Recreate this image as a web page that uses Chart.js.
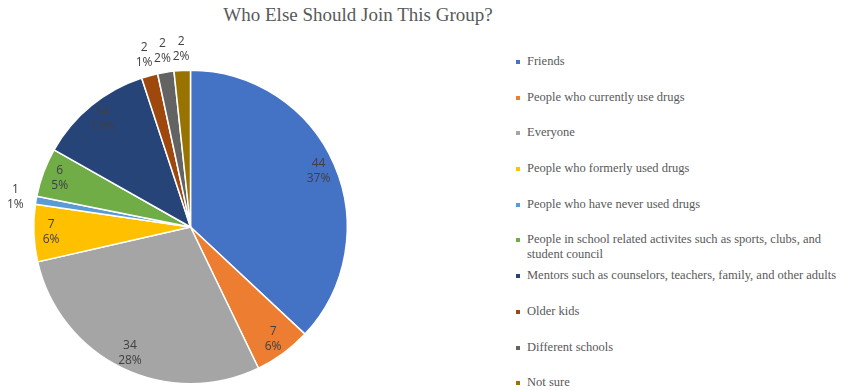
<!DOCTYPE html>
<html>
<head>
<meta charset="utf-8">
<title>Who Else Should Join This Group?</title>
<script src="https://cdn.jsdelivr.net/npm/chart.js@4/dist/chart.umd.min.js"></script>
<style>
    html, body { margin: 0; padding: 0; background: #fff; }
    #wrap { position: relative; width: 844px; height: 390px; overflow: hidden; }
    #title {
        position: absolute; left: 158px; top: 4px; width: 400px;
        text-align: center; font-family: "Liberation Serif", "Times New Roman", serif;
        font-size: 19px; color: #595959;
    }
    #pieCanvas { position: absolute; left: 0; top: 0; }
    #legend {
        position: absolute; left: 514px; top: 54px; margin: 0; padding: 0; list-style: none;
        font-family: "Liberation Serif", "Times New Roman", serif; font-size: 12.5px; color: #595959;
    }
    #legend li { position: relative; height: 35.7px; line-height: 15px; padding-left: 13px; width: 318px; }
    #legend li span.box { position: absolute; left: 2px; top: 6px; width: 4px; height: 4px; }
</style>
</head>
<body>
<div id="wrap">
    <div id="title">Who Else Should Join This Group?</div>
    <canvas id="pieCanvas" width="500" height="390"></canvas>
    <ul id="legend"></ul>
</div>
<script>
// Kategoriler ve değerler
const categories = [
    'Friends',
    'People who currently use drugs',
    'Everyone',
    'People who formerly used drugs',
    'People who have never used drugs',
    'People in school related activites such as sports, clubs, and student council',
    'Mentors such as counselors, teachers, family, and other adults',
    'Older kids',
    'Different schools',
    'Not sure'
];
const counts = [44, 7, 34, 7, 1, 6, 14, 2, 2, 2];
const percentLabels = ['37%', '6%', '28%', '6%', '1%', '5%', '12%', '1%', '2%', '2%'];
const sliceColors = ['#4472C4', '#ED7D31', '#A5A5A5', '#FFC000', '#5B9BD5',
                     '#70AD47', '#264478', '#9E480E', '#636363', '#997300'];

/**
 * Dilim etiketleri: büyük dilimlerde içeride, küçüklerde dışarıda
 */
const sliceLabelPlugin = {
    id: 'sliceLabels',
    afterDatasetsDraw(chart) {
        const ctx = chart.ctx;
        const meta = chart.getDatasetMeta(0);
        ctx.save();
        ctx.font = '12px "Open Sans", "Liberation Sans", sans-serif';
        ctx.fillStyle = '#404040';
        ctx.textAlign = 'center';
        ctx.textBaseline = 'middle';
        meta.data.forEach((arc, i) => {
            const p = arc.getProps(['x', 'y', 'startAngle', 'endAngle', 'outerRadius'], true);
            const mid = (p.startAngle + p.endAngle) / 2;
            const small = counts[i] <= 2;
            const dist = small ? p.outerRadius + 21 : p.outerRadius * 0.89;
            const lx = p.x + Math.cos(mid) * dist;
            const ly = p.y + Math.sin(mid) * dist;
            ctx.fillText(String(counts[i]), lx, ly - 7.5);
            ctx.fillText(percentLabels[i], lx, ly + 7.5);
        });
        ctx.restore();
    }
};

function createPieChart() {
    const ctx = document.getElementById('pieCanvas');
    return new Chart(ctx, {
        type: 'pie',
        data: {
            labels: categories,
            datasets: [{
                data: counts,
                backgroundColor: sliceColors,
                borderColor: '#ffffff',
                borderWidth: 1.5
            }]
        },
        options: {
            responsive: false,
            animation: false,
            layout: { padding: { left: 33, right: 152, top: 69, bottom: 5 } },
            plugins: {
                legend: { display: false },
                tooltip: { enabled: false }
            }
        },
        plugins: [sliceLabelPlugin]
    });
}

// Sağdaki açıklama listesi
function buildLegend() {
    const list = document.getElementById('legend');
    categories.forEach((name, i) => {
        const li = document.createElement('li');
        li.innerHTML = `<span class="box" style="background:${sliceColors[i]}"></span>${name}`;
        list.appendChild(li);
    });
}

createPieChart();
buildLegend();
</script>
</body>
</html>
